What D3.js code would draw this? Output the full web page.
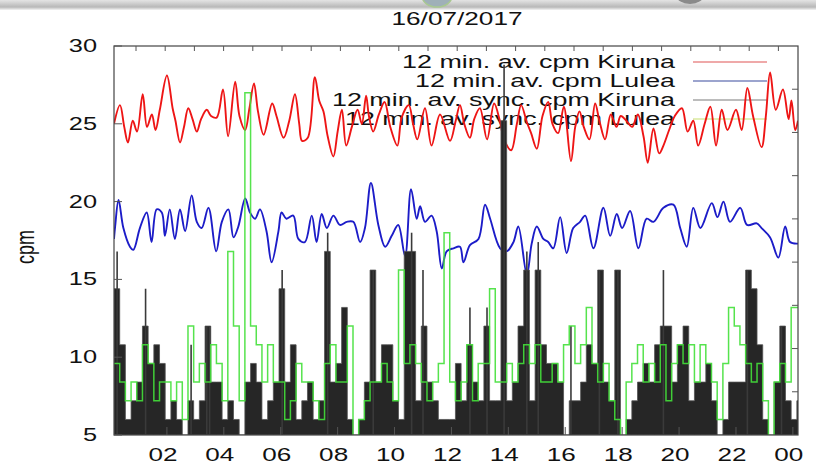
<!DOCTYPE html>
<html><head><meta charset="utf-8">
<script src="https://cdn.jsdelivr.net/npm/d3@7"></script>
<style>
html,body{margin:0;padding:0;background:#fff;}
svg{display:block;font-family:"Liberation Sans",Arial,sans-serif;}
</style></head>
<body><div id="chart"></div>
<script>
// ---------------- data ----------------
const title = "16/07/2017";
const yLabel = "cpm";
const yTicks = [5, 10, 15, 20, 25, 30];
const xTickHours = [2, 4, 6, 8, 10, 12, 14, 16, 18, 20, 22, 24];
const xTickLabels = ["02","04","06","08","10","12","14","16","18","20","22","00"];
const seriesNames = ["12 min. av. cpm Kiruna", "12 min. av. cpm Lulea",
  "12 min. av. sync. cpm Kiruna", "12 min. av. sync. cpm Lulea"];

// [hour, cpm]
const kiruna = [[0.14,25.0],[0.35,26.2],[0.5,24.8],[0.63,23.8],[0.8,25.2],[0.95,24.5],[1.15,26.9],[1.3,24.8],[1.47,25.6],[1.6,24.6],[1.75,25.9],[2.0,28.1],[2.2,26.0],[2.3,25.2],[2.46,23.8],[2.6,24.8],[2.75,26.0],[2.9,25.3],[3.05,24.5],[3.2,25.3],[3.4,25.9],[3.55,25.5],[3.75,25.4],[3.97,27.2],[4.15,24.2],[4.4,27.7],[4.55,25.5],[4.75,24.6],[4.9,26.0],[5.06,27.6],[5.2,25.8],[5.4,24.3],[5.7,26.3],[5.85,25.5],
[6.1,24.1],[6.3,25.2],[6.5,26.9],[6.65,25.0],[6.75,23.9],[6.95,24.1],[7.2,28.0],[7.35,26.5],[7.5,25.8],[7.65,24.2],[7.85,22.9],[8.0,24.5],[8.15,25.9],[8.3,23.6],[8.5,24.8],[8.7,25.9],[8.85,25.0],[9.0,26.8],[9.1,25.5],[9.25,24.5],[9.45,25.6],[9.65,26.4],[9.85,24.8],[10.1,23.6],[10.25,25.4],[10.5,26.2],[10.65,25.0],[10.8,24.0],[11.07,26.0],[11.3,23.6],[11.6,25.6],
[11.95,23.9],[12.15,25.2],[12.3,26.2],[12.45,25.0],[12.65,24.1],[12.8,25.3],[13.0,26.0],[13.25,24.0],[13.5,26.3],[13.7,25.2],[13.85,24.0],[14.1,23.3],[14.3,25.0],[14.45,26.2],[14.65,25.1],[14.8,24.4],[15.0,23.4],[15.2,25.5],[15.4,26.4],[15.55,25.0],[15.75,24.4],[15.95,26.1],[16.2,22.6],[16.35,24.8],[16.5,25.8],[16.65,24.8],[16.85,24.0],[17.05,26.3],[17.2,25.2],[17.4,24.0],[17.6,25.6],[17.8,24.8],
[17.95,25.5],[18.15,25.2],[18.35,24.8],[18.55,25.6],[18.75,24.2],[18.9,22.5],[19.1,24.7],[19.3,23.1],[19.45,23.6],[19.65,24.6],[19.85,25.5],[20.1,26.0],[20.3,24.5],[20.5,25.2],[20.67,23.6],[20.9,25.0],[21.1,26.1],[21.3,23.6],[21.5,25.9],[21.7,24.6],[22.0,25.9],[22.2,24.6],[22.4,27.3],[22.6,25.5],[22.9,23.5],[23.05,25.5],[23.2,28.3],[23.4,25.9],[23.65,27.2],[23.85,25.3],[23.95,26.5],[24.08,24.6],[24.18,25.2]];

const lulea = [[0.14,17.6],[0.18,18.4],[0.3,20.1],[0.47,18.3],[0.7,17.1],[0.82,16.9],[1.05,18.3],[1.29,19.3],[1.46,17.4],[1.64,19.5],[1.82,19.3],[1.93,17.8],[2.1,19.5],[2.28,17.6],[2.46,19.5],[2.64,18.1],[2.87,20.4],[3.05,18.7],[3.22,18.3],[3.46,19.6],[3.73,16.8],[3.93,18.7],[4.16,19.5],[4.34,17.7],[4.51,18.4],[4.75,20.2],[4.92,19.3],[5.1,18.9],[5.27,19.5],[5.5,18.1],[5.68,16.1],[5.92,18.1],[6.03,19.3],[6.2,18.9],[6.44,19.1],[6.62,17.6],[6.85,17.4],[7.09,19.1],[7.26,17.4],[7.44,19.2],[7.62,18.3],[7.85,19.1],[8.08,18.5],[8.32,18.7],[8.55,18.7],[8.79,17.4],[8.96,18.3],[9.17,21.2],[9.43,18.5],[9.67,17.1],[9.9,17.8],[10.13,18.5],[10.37,16.5],[10.58,20.8],[10.78,18.9],[10.9,19.7],[11.07,18.7],[11.3,19.1],[11.48,18.1],[11.66,15.7],[11.83,16.8],[12.07,17.0],[12.3,17.1],[12.42,16.1],[12.65,17.2],[12.95,17.6],[13.18,19.8],[13.36,18.9],[13.71,17.0],[13.94,16.8],[14.18,17.4],[14.35,18.4],[14.65,15.3],[14.82,17.3],[15.0,18.4],[15.23,17.6],[15.4,17.4],[15.58,17.0],[15.82,19.0],[16.05,16.7],[16.28,18.3],[16.52,18.7],[16.7,19.1],[16.99,17.0],[17.34,19.6],[17.58,17.8],[17.81,19.2],[18.0,18.3],[18.28,19.4],[18.57,17.0],[18.86,18.9],[19.1,18.7],[19.45,19.6],[19.8,19.8],[20.04,18.3],[20.27,17.1],[20.5,19.6],[20.75,18.3],[21.15,19.9],[21.35,19.0],[21.56,20.0],[21.79,18.7],[22.15,19.6],[22.39,18.5],[22.73,18.6],[22.9,18.3],[23.2,17.7],[23.49,16.4],[23.73,18.4],[23.9,17.4],[24.18,17.3]];

// synchronous counts, 0.2 h bins starting at 00:08
const syncStartHour = 0.14;
const syncBinHours = 0.2;
const syncKiruna = [14.4,10.8,6.0,7.2,8.4,12.0,9.6,10.8,9.6,6.0,
 7.2,6.0,4.8,7.2,6.0,7.2,12.0,8.4,8.4,6.0,
 7.2,6.0,4.8,8.4,9.6,8.4,6.0,7.2,8.4,14.4,
 8.4,10.8,6.0,7.2,8.4,6.0,7.2,16.8,8.4,9.6,
 13.2,6.0,4.8,6.0,8.4,15.6,8.4,10.8,10.8,7.2,
 6.0,16.8,16.8,7.2,12.0,8.4,7.2,6.0,6.0,6.0,
 9.6,7.2,10.8,8.4,7.2,12.0,7.2,7.2,25.2,7.2,
 8.4,12.0,15.6,7.2,15.6,10.8,9.6,9.6,8.4,4.8,
 7.2,7.2,8.4,10.8,9.6,15.6,8.4,7.2,15.6,4.8,
 6.0,7.2,8.4,9.6,8.4,10.8,12.0,12.0,8.4,10.8,
 12.0,7.2,8.4,8.4,9.6,7.2,4.8,6.0,8.4,8.4,
 8.4,15.6,14.4,10.8,6.0,4.8,8.4,12.0,7.2,6.0,7.2];
const syncLulea = [9.6,8.4,7.2,8.4,7.2,10.8,9.6,7.2,8.4,8.4,
 7.2,8.4,6.0,12.0,8.4,9.6,8.4,10.8,9.6,7.2,
 16.8,12.0,7.2,27.0,12.0,10.8,8.4,10.8,8.4,8.4,
 6.0,7.2,9.6,8.4,8.4,7.2,6.0,9.6,10.8,8.4,
 8.4,12.0,4.8,6.0,7.2,8.4,8.4,9.6,8.4,7.2,
 15.6,9.6,10.8,9.6,8.4,7.2,8.4,9.6,18.0,8.4,
 7.2,8.4,10.8,7.2,9.6,9.6,14.4,8.4,8.4,9.6,
 8.4,9.6,10.8,9.6,10.8,8.4,8.4,9.6,8.4,10.8,
 12.0,9.6,10.8,13.2,9.6,8.4,9.6,7.2,6.0,4.8,
 8.4,9.6,10.8,8.4,9.6,8.4,10.8,7.2,9.6,10.8,
 9.6,10.8,8.4,10.8,9.6,8.4,6.0,9.6,13.2,12.0,
 10.8,9.6,8.4,9.6,7.2,4.8,8.4,9.6,8.4,13.2,13.2];
// short maxima inside bins of the Kiruna sync series [hour, cpm]
const syncKirunaPeaks = [[0.25,16.8],[1.25,14.4],[2.85,10.8],[3.4,12.0],[3.5,12.0],[6.05,15.6],[7.65,18.0],[9.25,15.6],[10.6,18.0],[11.0,15.6],[12.65,13.2],[13.25,13.2],[13.85,28.8],[14.65,16.8],[15.05,17.4],[16.2,12.0],[17.2,15.6],[17.85,15.6],[19.45,15.6],[22.4,15.6],[23.6,12.0]];

// ---------------- drawing ----------------
const W = 816, H = 469;
const L = 114, R = 798, T = 46, B = 435;
const SX = 1.45; // horizontal stretch of the photographed text
const svg = d3.select("#chart").append("svg").attr("width", W).attr("height", H);

// top bar of the photograph
const defs = svg.append("defs");
const gr = defs.append("linearGradient").attr("id","topbar").attr("x1",0).attr("y1",0).attr("x2",0).attr("y2",1);
gr.append("stop").attr("offset","0%").attr("stop-color","#e4e4e4");
gr.append("stop").attr("offset","70%").attr("stop-color","#b8b8b8");
gr.append("stop").attr("offset","100%").attr("stop-color","#f4f4f4");
svg.append("rect").attr("x",0).attr("y",0).attr("width",W).attr("height",10).attr("fill","url(#topbar)");
svg.append("ellipse").attr("cx",437).attr("cy",-4).attr("rx",15).attr("ry",11).attr("fill","#9fb0b8").attr("stroke","#a8c890").attr("stroke-width",1.5);
svg.append("ellipse").attr("cx",690).attr("cy",-5).attr("rx",14).attr("ry",9).attr("fill","#8a8a8a");

defs.append("clipPath").attr("id","plotclip").append("rect")
  .attr("x",L).attr("y",T).attr("width",R-L).attr("height",B-T);

const x = d3.scaleLinear().domain([0.14, 24.18]).range([L, R]);
const y = d3.scaleLinear().domain([5, 30]).range([B, T]);
const y2 = d3.scaleLinear().domain([0, 9]).range([B, T]);
const x2 = d3.scaleLinear().domain([0, 1]).range([136, 165.2]);

function stext(g, px, py, s, anchor, size, sx) {
  return g.append("text")
    .attr("transform", `translate(${px},${py}) scale(${sx},1)`)
    .attr("text-anchor", anchor).style("font-size", size + "px")
    .attr("fill", "#111").text(s);
}

// title
svg.append("text").attr("x", 457).attr("y", 25).attr("text-anchor","middle")
  .style("font-size","19px").attr("fill","#111")
  .attr("textLength",131).attr("lengthAdjust","spacingAndGlyphs").text(title);

// y label
svg.append("text").attr("transform","translate(34,247) scale(1.45,1) rotate(-90)")
  .attr("text-anchor","middle").style("font-size","18px").attr("fill","#111").text(yLabel);

// legend text (under data)
const legendRows = [62, 81, 100, 119];
const legendWidths = [273, 260, 343, 330];
const legendColors = ["#e05555", "#3a4a9e", "#7a7a7a", "#c8e070"];
const lg = svg.append("g");
seriesNames.forEach((n, i) => {
  lg.append("text").attr("x", 675).attr("y", legendRows[i] + 6).attr("text-anchor","end")
    .style("font-size","17.5px").attr("fill","#111")
    .attr("textLength", legendWidths[i]).attr("lengthAdjust","spacingAndGlyphs").text(n);
  lg.append("line").attr("x1",693).attr("x2",767).attr("y1",legendRows[i]).attr("y2",legendRows[i])
    .attr("stroke", legendColors[i]).attr("stroke-width",1.2);
});

const plot = svg.append("g").attr("clip-path","url(#plotclip)");

// Kiruna
plot.append("path").datum(kiruna)
  .attr("d", d3.line().curve(d3.curveCatmullRom.alpha(0.5)).x(d => x(d[0])).y(d => y(d[1])))
  .attr("fill","none").attr("stroke","#ee1515").attr("stroke-width",1.9).attr("stroke-linejoin","round");
// Lulea
plot.append("path").datum(lulea)
  .attr("d", d3.line().curve(d3.curveCatmullRom.alpha(0.5)).x(d => x(d[0])).y(d => y(d[1])))
  .attr("fill","none").attr("stroke","#1c1cc8").attr("stroke-width",1.9).attr("stroke-linejoin","round");

// sync Kiruna: dark filled steps
const kSteps = syncKiruna.map((v, i) => [syncStartHour + i * syncBinHours, v]);
kSteps.push([syncStartHour + syncKiruna.length * syncBinHours, syncKiruna[syncKiruna.length - 1]]);
plot.append("path").datum(kSteps)
  .attr("d", d3.area().curve(d3.curveStepAfter).x(d => x(d[0])).y0(y(5)).y1(d => y(Math.max(d[1], 4.6))))
  .attr("fill","#262626").attr("stroke","#505050").attr("stroke-width",0.8);
plot.selectAll("line.peak").data(syncKirunaPeaks).join("line").attr("class","peak")
  .attr("x1", d => x(d[0])).attr("x2", d => x(d[0]))
  .attr("y1", y(5)).attr("y2", d => y(d[1]))
  .attr("stroke","#3a3a3a").attr("stroke-width",1.6);

// sync Lulea: green steps
const lSteps = syncLulea.map((v, i) => [syncStartHour + i * syncBinHours, v]);
lSteps.push([syncStartHour + syncLulea.length * syncBinHours, syncLulea[syncLulea.length - 1]]);
plot.append("path").datum(lSteps)
  .attr("d", d3.line().curve(d3.curveStepAfter).x(d => x(d[0])).y(d => y(Math.max(d[1], 4.6))))
  .attr("fill","none").attr("stroke","#44e03a").attr("stroke-width",1.5).attr("stroke-opacity",0.9);

// frame
svg.append("rect").attr("x",L).attr("y",T).attr("width",R-L).attr("height",B-T)
  .attr("fill","none").attr("stroke","#444").attr("stroke-width",1.2);

// ticks (inward)
const ax = svg.append("g").attr("stroke","#555").attr("stroke-width",1);
yTicks.forEach(v => {
  ax.append("line").attr("x1",L).attr("x2",L+8).attr("y1",y(v)).attr("y2",y(v));
  stext(svg, 97, y(v) + 6, String(v), "end", 17.5, SX);
});
d3.range(1, 9).forEach(k => {
  ax.append("line").attr("x1",R).attr("x2",R-6).attr("y1",y2(k)).attr("y2",y2(k));
});
xTickHours.forEach((h, i) => {
  ax.append("line").attr("x1",x(h)).attr("x2",x(h)).attr("y1",B).attr("y2",B-8);
  stext(svg, x(h) - 4, 461, xTickLabels[i], "middle", 18, SX);
});
d3.range(0, 23).forEach(k => {
  ax.append("line").attr("x1",x2(k)).attr("x2",x2(k)).attr("y1",T).attr("y2",T+5);
});
</script></body></html>
